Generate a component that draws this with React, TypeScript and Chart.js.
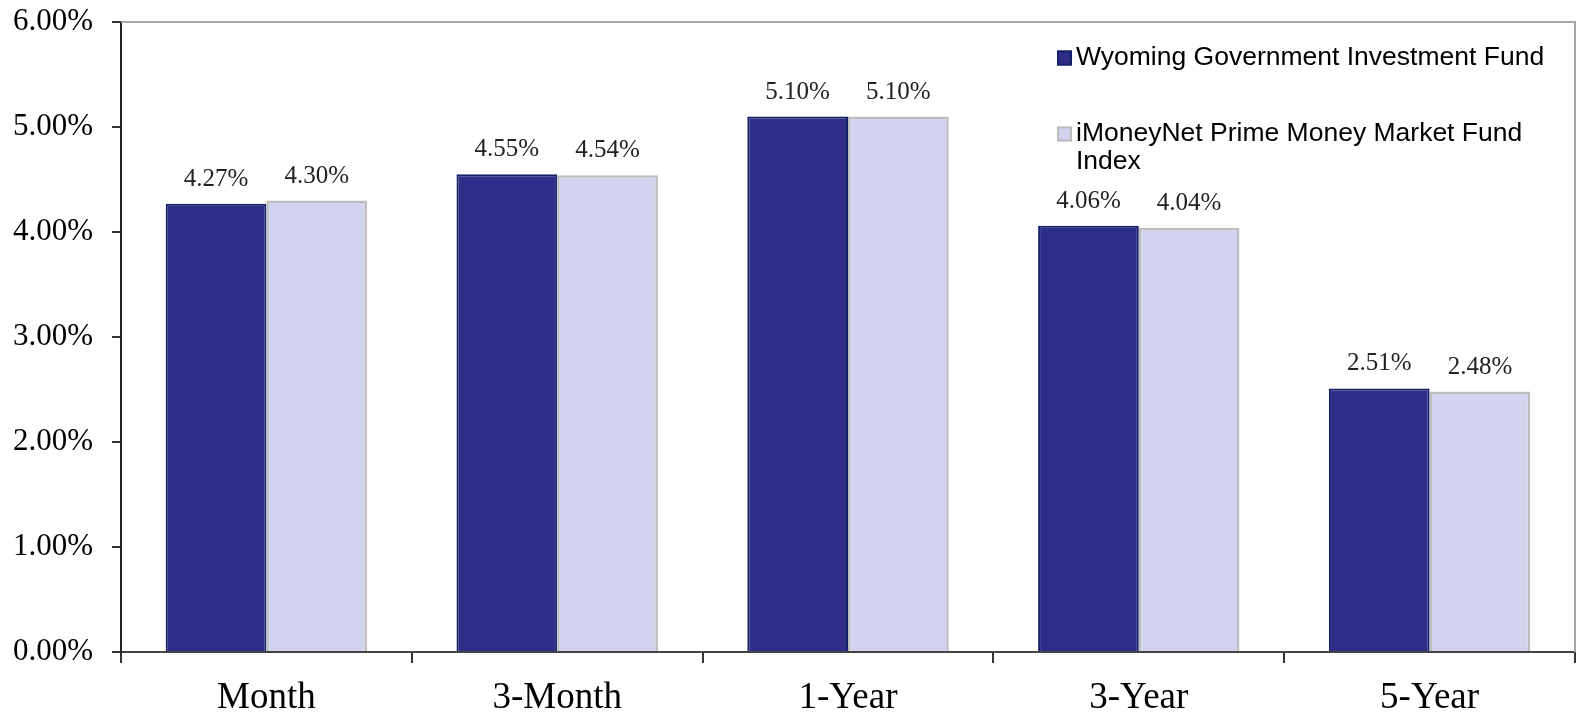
import React, { useEffect, useRef } from "react";
import { Chart, registerables } from "chart.js";

Chart.register(...registerables);

const categories = ["Month", "3-Month", "1-Year", "3-Year", "5-Year"];
const wyomingValues = [4.27, 4.55, 5.1, 4.06, 2.51];
const imoneyValues = [4.3, 4.54, 5.1, 4.04, 2.48];
const seriesNames = [
  "Wyoming Government Investment Fund",
  "iMoneyNet Prime Money Market Fund Index",
];
const yMin = 0;
const yMax = 6;
const yStep = 1;

const SERIF = "'Liberation Serif', 'Times New Roman', serif";
const SANS = "'Liberation Sans', Arial, sans-serif";

const fmt = (v: number) => v.toFixed(2) + "%";

const frameAndLabels = {
  id: "frameAndLabels",
  afterDatasetsDraw(chart: any) {
    const ctx = chart.ctx;
    const { top, right, left, bottom } = chart.chartArea;
    ctx.save();
    ctx.strokeStyle = "#a6a6a6";
    ctx.lineWidth = 2;
    ctx.beginPath();
    ctx.moveTo(left, top);
    ctx.lineTo(right, top);
    ctx.lineTo(right, bottom);
    ctx.stroke();
    ctx.font = "25px " + SERIF;
    ctx.fillStyle = "#222";
    ctx.textAlign = "center";
    ctx.textBaseline = "alphabetic";
    chart.data.datasets.forEach((ds: any, di: number) => {
      const meta = chart.getDatasetMeta(di);
      meta.data.forEach((bar: any, i: number) => {
        ctx.fillText(fmt(ds.data[i]), bar.x, bar.y - 18);
      });
    });
    ctx.restore();
  },
  afterDraw(chart: any) {
    const ctx = chart.ctx;
    const { right, top } = chart.chartArea;
    ctx.save();
    ctx.font = "26.5px " + SANS;
    ctx.textBaseline = "middle";
    ctx.textAlign = "left";
    const boxX = right - 518;
    const textX = boxX + 19;
    const maxW = right - 20 - textX;
    const lineH = 28;
    let y = top + 36;
    chart.data.datasets.forEach((ds: any) => {
      ctx.fillStyle = ds.backgroundColor;
      ctx.strokeStyle = ds.borderColor;
      ctx.lineWidth = 2;
      ctx.fillRect(boxX, y - 7.5, 15, 15);
      ctx.strokeRect(boxX + 1, y - 6.5, 13, 13);
      const words = String(ds.label).split(" ");
      const lines: string[] = [];
      let cur = "";
      words.forEach((w) => {
        const test = cur ? cur + " " + w : w;
        if (ctx.measureText(test).width > maxW && cur) {
          lines.push(cur);
          cur = w;
        } else cur = test;
      });
      if (cur) lines.push(cur);
      ctx.fillStyle = "#000";
      lines.forEach((ln, k) => ctx.fillText(ln, textX, y + k * lineH));
      y += 76;
    });
    ctx.restore();
  },
};

export default function App() {
  const ref = useRef<HTMLCanvasElement | null>(null);
  useEffect(() => {
    if (!ref.current) return;
    const chart = new Chart(ref.current, {
      type: "bar",
      data: {
        labels: categories,
        datasets: [
          {
            label: seriesNames[0],
            data: wyomingValues,
            backgroundColor: "#2e2e88",
            borderColor: "#14206a",
            borderWidth: 2,
            categoryPercentage: 0.6926,
            barPercentage: 1,
          },
          {
            label: seriesNames[1],
            data: imoneyValues,
            backgroundColor: "#d2d3ee",
            borderColor: "#bdbdbd",
            borderWidth: 2.5,
            categoryPercentage: 0.6926,
            barPercentage: 1,
          },
        ],
      },
      options: {
        animation: false,
        responsive: true,
        maintainAspectRatio: false,
        layout: { padding: { top: 22, right: 7, left: 0, bottom: 0 } },
        plugins: {
          legend: { display: false },
          tooltip: { enabled: false },
        },
        scales: {
          x: {
            grid: {
              display: true,
              offset: true,
              drawOnChartArea: false,
              drawTicks: true,
              tickLength: 11,
              color: "#333",
              lineWidth: 2,
            },
            border: { display: true, color: "#444", width: 2 },
            ticks: {
              color: "#000",
              font: { family: SERIF, size: 37 },
              padding: 13,
              maxRotation: 0,
            },
            afterFit: (s: any) => {
              s.height = 60;
              s.paddingLeft = 0;
              s.paddingRight = 0;
            },
          },
          y: {
            min: yMin,
            max: yMax,
            grid: {
              display: true,
              drawOnChartArea: false,
              drawTicks: true,
              tickLength: 9,
              color: "#333",
              lineWidth: 2,
            },
            border: { display: true, color: "#222", width: 2 },
            ticks: {
              stepSize: yStep,
              color: "#000",
              font: { family: SERIF, size: 31 },
              padding: 19,
              callback: (v: any) => fmt(Number(v)),
            },
            afterFit: (s: any) => {
              s.width = 121;
              s.paddingTop = 0;
              s.paddingBottom = 0;
            },
          },
        },
      },
      plugins: [frameAndLabels],
    });
    return () => chart.destroy();
  }, []);
  return (
    <div
      style={{
        position: "absolute",
        left: 0,
        top: 0,
        width: 1582,
        height: 712,
        background: "#fff",
      }}
    >
      <canvas ref={ref} />
    </div>
  );
}
